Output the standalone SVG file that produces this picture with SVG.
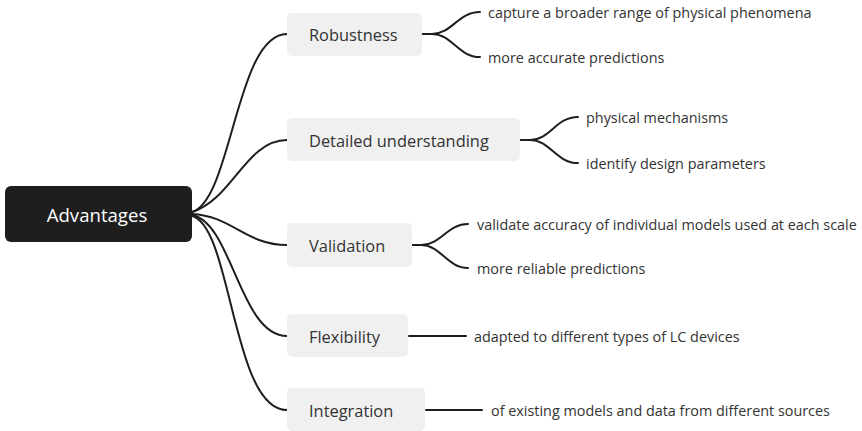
<svg xmlns="http://www.w3.org/2000/svg" width="862" height="431" viewBox="0 0 862 431">
  <style>
    .link { fill: none; stroke: #1e1e1e; stroke-width: 2; stroke-linecap: round; }
    .topic { fill: #f0f0f0; }
    .topic-text { font-family: "Open Sans", "Liberation Sans", sans-serif; font-size: 16.4px; fill: #333333; dominant-baseline: central; }
    .leaf-text { font-family: "Open Sans", "Liberation Sans", sans-serif; font-size: 14.4px; fill: #333333; dominant-baseline: central; }
    .root-text { font-family: "Open Sans", "Liberation Sans", sans-serif; font-size: 18.6px; fill: #ffffff; dominant-baseline: central; text-anchor: middle; }
  </style>
  <rect width="862" height="431" fill="#ffffff"/>

  <!-- connectors -->
  <g id="connectors">
    <path class="link" d="M192,212 C232,200 236,34 287,34"/>
    <path class="link" d="M192,212 C232,200 246,140 287,140"/>
    <path class="link" d="M192,214 C232,216 246,245 287,245"/>
    <path class="link" d="M192,215 C232,222 240,336 287,336"/>
    <path class="link" d="M192,216 C232,226 232,410 287,410"/>

    <path class="link" d="M423,34 L432,34 C452,34 458,12 480,12"/>
    <path class="link" d="M423,34 L432,34 C452,34 458,57 480,57"/>

    <path class="link" d="M521,140 L530,140 C550,140 556,117 578,117"/>
    <path class="link" d="M521,140 L530,140 C550,140 556,163 578,163"/>

    <path class="link" d="M412,245 L421,245 C441,245 447,224 468,224"/>
    <path class="link" d="M412,245 L421,245 C441,245 447,268 468,268"/>

    <path class="link" d="M409,336 L466,336"/>
    <path class="link" d="M426,410 L482,410"/>
  </g>

  <!-- central topic -->
  <g id="advantages">
    <rect x="5" y="186" width="187" height="56" rx="6" fill="#1e1e1e"/>
    <text class="root-text" x="97" y="214">Advantages</text>
  </g>

  <!-- main branches -->
  <g id="robustness">
    <rect class="topic" x="287" y="13" width="135" height="43" rx="5"/>
    <text class="topic-text" x="309" y="34">Robustness</text>
  </g>
  <g id="detailed-understanding">
    <rect class="topic" x="287" y="118" width="233" height="43" rx="5"/>
    <text class="topic-text" x="309" y="140">Detailed understanding</text>
  </g>
  <g id="validation">
    <rect class="topic" x="287" y="223" width="125" height="44" rx="5"/>
    <text class="topic-text" x="309" y="245">Validation</text>
  </g>
  <g id="flexibility">
    <rect class="topic" x="287" y="314" width="121" height="43" rx="5"/>
    <text class="topic-text" x="309" y="336">Flexibility</text>
  </g>
  <g id="integration">
    <rect class="topic" x="287" y="388" width="138" height="43" rx="5"/>
    <text class="topic-text" x="309" y="410">Integration</text>
  </g>

  <!-- leaves -->
  <g id="robustness-1"><text class="leaf-text" x="488" y="12">capture a broader range of physical phenomena</text></g>
  <g id="robustness-2"><text class="leaf-text" x="488" y="57">more accurate predictions</text></g>
  <g id="understanding-1"><text class="leaf-text" x="586" y="117">physical mechanisms</text></g>
  <g id="understanding-2"><text class="leaf-text" x="586" y="163">identify design parameters</text></g>
  <g id="validation-1"><text class="leaf-text" x="477" y="224">validate accuracy of individual models used at each scale</text></g>
  <g id="validation-2"><text class="leaf-text" x="477" y="268">more reliable predictions</text></g>
  <g id="flexibility-1"><text class="leaf-text" x="474" y="336">adapted to different types of LC devices</text></g>
  <g id="integration-1"><text class="leaf-text" x="491" y="410">of existing models and data from different sources</text></g>
</svg>
